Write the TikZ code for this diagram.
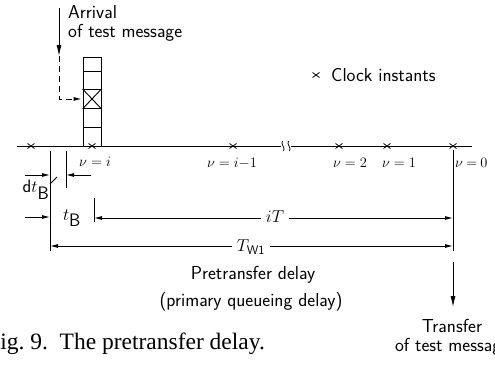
\documentclass[tikz,border=0pt]{standalone}
\usepackage{fontspec}
\newfontfamily\capfont{Liberation Serif}
\usetikzlibrary{arrows.meta}
\tikzset{
  ln/.style={line width=0.9pt},
  tip/.style={-{Latex[length=8pt,width=4pt]}},
  bigtip/.style={-{Latex[length=11pt,width=5pt]}},
  dsh/.style={line width=0.9pt, dash pattern=on 6pt off 4pt},
  cellbox/.style={draw, line width=0.9pt, minimum width=18pt, inner sep=0pt, anchor=north},
  lbl/.style={font=\sffamily\fontsize{18.8}{19}\selectfont, inner sep=0pt},
  mlbl/.style={font=\fontsize{15.5}{18}\selectfont, inner sep=0pt},
  dlbl/.style={font=\fontsize{18}{20}\selectfont, inner sep=0pt},
  xm/.pic={\draw[line width=0.8pt] (-3.5,-2.5)--(3.5,2.5) (-3.5,2.5)--(3.5,-2.5);}
}
\begin{document}
\begin{tikzpicture}[x=1pt,y=-1pt]
\useasboundingbox (0,0) rectangle (495,364);
% timeline
\coordinate (tl0) at (17,146);
\coordinate (br1) at (281,146);
\coordinate (br2) at (291,146);
\coordinate (tl1) at (472,146);
\draw[ln] (tl0) -- (br1);
\draw[ln] (br2) -- (tl1);
\draw[line width=0.8pt] (282.5,141) .. controls (280,144) and (286,148) .. (283.5,151);
\draw[line width=0.8pt] (288.5,141) .. controls (286,144) and (292,148) .. (289.5,151);
% queue
\node[cellbox, minimum height=14pt] (q1) at (92,57) {};
\node[cellbox, minimum height=18pt] (q2) at (92,71) {};
\node[cellbox, minimum height=19pt] (q3) at (92,89) {};
\node[cellbox, minimum height=19pt] (q4) at (92,108) {};
\node[cellbox, minimum height=19pt] (q5) at (92,127) {};
\draw[ln] (q3.north west) -- (q3.south east) (q3.north east) -- (q3.south west);
% clock instants
\foreach \cx in {31,92,233,339,387,453} \pic at (\cx,146) {xm};
% arrival
\coordinate (arrTop) at (59,8);
\coordinate (arrTip) at (59,56);
\draw[ln, bigtip] (arrTop) -- (arrTip);
\draw[dsh, tip] (arrTip) |- ([xshift=-1pt]q3.west);
\node[lbl, align=left, anchor=north west] (arrival) at (68,5) {Arrival\\of test message};
% legend
\pic at (316,75) {xm};
\node[lbl, anchor=west] (legend) at (331,75) {Clock instants};
% nu labels
\node[mlbl] (n1) at (95,162) {$\nu = i$};
\node[mlbl] (n2) at (232,163) {$\nu = i{-}1$};
\node[mlbl] (n3) at (350,163) {$\nu = 2$};
\node[mlbl] (n4) at (399,163) {$\nu = 1$};
\node[mlbl, anchor=west] (n5) at (455,163) {$\nu\mskip4mu{=}\mskip4mu0$};
% dimension verticals
\coordinate (v1t) at (50,151); \coordinate (v1b) at (50,251);
\coordinate (v2t) at (66,151); \coordinate (v2b) at (66,188);
\coordinate (v3t) at (94,198); \coordinate (v3b) at (94,222);
\coordinate (v4t) at (453,150); \coordinate (v4b) at (453,251);
\draw[ln] (v1t) -- (v1b);
\draw[ln] (v2t) -- (v2b);
\draw[ln] (v3t) -- (v3b);
\draw[ln] (v4t) -- (v4b);
% dt_B
\coordinate (d1s) at (25,175); \coordinate (d1e) at (50,175);
\coordinate (d2s) at (91,175); \coordinate (d2e) at (66,175);
\draw[ln, tip] (d1s) -- (d1e);
\draw[ln, tip] (d2s) -- (d2e);
\node[dlbl] (dtb) at (36,190) {\textsf{d}$t_{\textsf{B}}$};
\coordinate (ld1) at (50,184); \coordinate (ld2) at (57,177);
\draw[line width=0.8pt] (ld1) -- (ld2);
% t_B
\coordinate (t1s) at (25,217); \coordinate (t1e) at (50,217);
\draw[ln, tip] (t1s) -- (t1e);
\node[dlbl] (tb) at (72,218) {$t_{\textsf{B}}$};
% iT
\coordinate (iTl) at (94,218); \coordinate (iTr) at (453,218);
\draw[ln, {Latex[length=8pt,width=4pt]}-{Latex[length=8pt,width=4pt]}] (iTl) -- (iTr);
\node[dlbl, fill=white, inner xsep=5pt, inner ysep=2pt] (iT) at (275,217) {$iT$};
% T_W1
\coordinate (twl) at (50,246); \coordinate (twr) at (453,246);
\draw[ln, {Latex[length=8pt,width=4pt]}-{Latex[length=8pt,width=4pt]}] (twl) -- (twr);
\node[dlbl, fill=white, inner xsep=5pt, inner ysep=2pt] (tw) at (251,247) {$T_{\mathsf{W1}}$};
% pretransfer text
\node[lbl] (pt1) at (253,275) {Pretransfer delay};
\node[lbl] (pt2) at (251,302) {(primary queueing delay)};
% transfer arrow
\coordinate (trs) at (453,262); \coordinate (tre) at (453,307);
\draw[ln, bigtip] (trs) -- (tre);
\node[lbl, align=center, anchor=north] (transfer) at (452,319) {Transfer\\of test message};
% caption
\node[font=\capfont\fontsize{23.5}{26}\selectfont, anchor=base west, inner sep=0pt] (cap) at (-13,349) {Fig.\ 9.\ \ The pretransfer delay.};
\end{tikzpicture}
\end{document}
